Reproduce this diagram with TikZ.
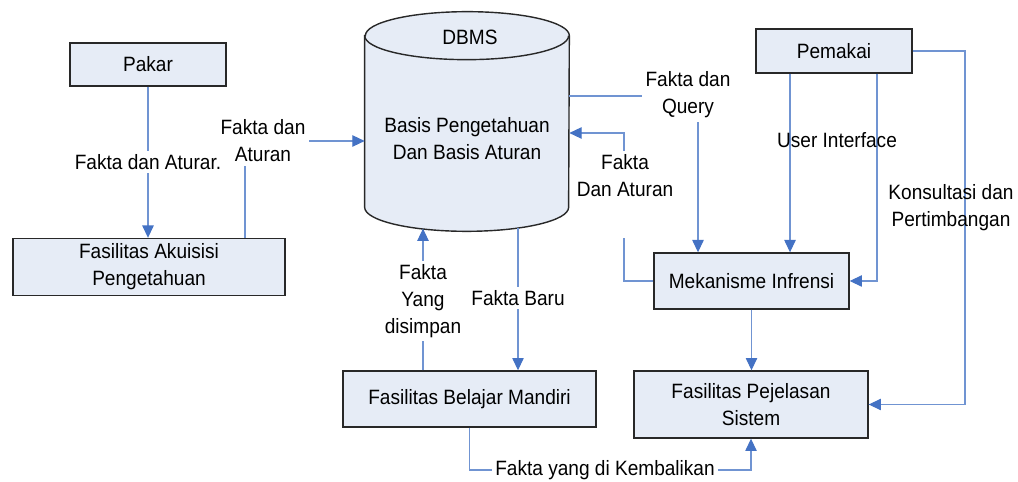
\documentclass[tikz,border=0pt]{standalone}
\usepackage{fontspec}
\setmainfont{Liberation Sans}[FakeStretch=0.92]
\usetikzlibrary{arrows.meta}
\definecolor{linkblue}{RGB}{112,148,210}
\definecolor{tipblue}{RGB}{68,114,196}
\definecolor{boxfill}{RGB}{230,236,246}
\definecolor{boxline}{RGB}{40,40,40}
\begin{document}
\begin{tikzpicture}[x=0.02cm,y=-0.02cm,
    every node/.style={font=\fontsize{11.8}{15.3}\selectfont,align=center},
    box/.style={rectangle,draw=boxline,line width=0.8pt,fill=boxfill,inner sep=0pt},
    link/.style={draw=linkblue,line width=0.6pt,-{Triangle[length=7pt,width=6.5pt,color=tipblue]}},
    tag/.style={fill=white,inner sep=2pt}]
  \useasboundingbox (0,0) rectangle (1018,482);
  \begin{scope}[every node/.append style={box}]
    \node[minimum width=3.12cm,minimum height=0.86cm] (pakar) at (148,64.5) {Pakar};
    \node[minimum width=5.44cm,minimum height=1.14cm] (akuisisi) at (149,267) {Fasilitas Akuisisi\\Pengetahuan};
    \node[minimum width=3.12cm,minimum height=0.88cm] (pemakai) at (834,51) {Pemakai};
    \node[minimum width=3.9cm,minimum height=1.12cm] (mekanisme) at (751.5,281) {Mekanisme Infrensi};
    \node[minimum width=4.68cm,minimum height=1.34cm] (pejelasan) at (751,404.5) {Fasilitas Pejelasan\\Sistem};
    \node[minimum width=5.06cm,minimum height=1.12cm] (belajar) at (469.5,399) {Fasilitas Belajar Mandiri};
  \end{scope}
  % basis pengetahuan (cylinder)
  \node[minimum width=4.08cm,minimum height=3.42cm,inner sep=0pt] (dbms) at (467,121.5) {};
  \draw[draw=boxline,line width=0.8pt,fill=boxfill] (dbms.north west) -- (dbms.south west)
    arc[start angle=180,end angle=360,x radius=2.04cm,y radius=0.48cm] -- (dbms.north east)
    arc[start angle=0,end angle=180,x radius=2.04cm,y radius=0.48cm] -- cycle;
  \draw[draw=boxline,line width=0.8pt] (dbms.north west)
    arc[start angle=180,end angle=360,x radius=2.04cm,y radius=0.48cm];
  \node (dbmstitle) at (470,37) {DBMS};
  \node (dbmstext) at (467,139) {Basis Pengetahuan\\Dan Basis Aturan};
  \coordinate (c2) at (245,141);
  \coordinate (c3) at (698,96);
  \coordinate (c4) at (624,133);
  \coordinate (c7) at (965,0);
  \coordinate (c9) at (751,470);
  \coordinate (db1) at (423,228.6);
  \coordinate (db2) at (518,227.8);
  % connectors
  \draw[link] (pakar.south) -- (pakar.south |- akuisisi.north);
  \draw[link] (akuisisi.north -| c2) -- (c2) -- (c2 -| dbms.west);
  \draw[link] (c3 -| dbms.east) -- (c3) -- (c3 |- mekanisme.north);
  \draw[link] (mekanisme.west) -| (c4) -- (c4 -| dbms.east);
  \draw[link] ([xshift=-0.88cm]pemakai.south) -- ([xshift=-0.88cm]pemakai.south |- mekanisme.north);
  \draw[link] ([xshift=0.86cm]pemakai.south) |- (mekanisme.east);
  \draw[link] (pemakai.east) -| (c7 |- pejelasan.east) -- (pejelasan.east);
  \draw[link] (mekanisme.south) -- (mekanisme.south |- pejelasan.north);
  \draw[link] (belajar.south) |- (c9) -- (pejelasan.south);
  \draw[link] (db1 |- belajar.north) -- (db1);
  \draw[link] (db2) -- (db2 |- belajar.north);
  % labels
  \node[tag] (l1) at (148,162) {Fakta dan Aturar.};
  \node[tag] (l2) at (263,141) {Fakta dan\\Aturan};
  \node[tag] (l3) at (688,95) {Fakta dan\\Query};
  \node[tag,anchor=north,minimum height=1.62cm,text depth=0.75cm] (l4) at (625,151) {Fakta\\Dan Aturan};
  \node (l5) at (837,140) {User Interface};
  \node (l6) at (951,208) {Konsultasi dan\\Pertimbangan};
  \node[tag] (l7) at (423,301) {Fakta\\Yang\\disimpan};
  \node[tag] (l8) at (518,298) {Fakta Baru};
  \node[tag,inner ysep=1pt] (l9) at (605,470) {Fakta yang di Kembalikan};
\end{tikzpicture}
\end{document}
